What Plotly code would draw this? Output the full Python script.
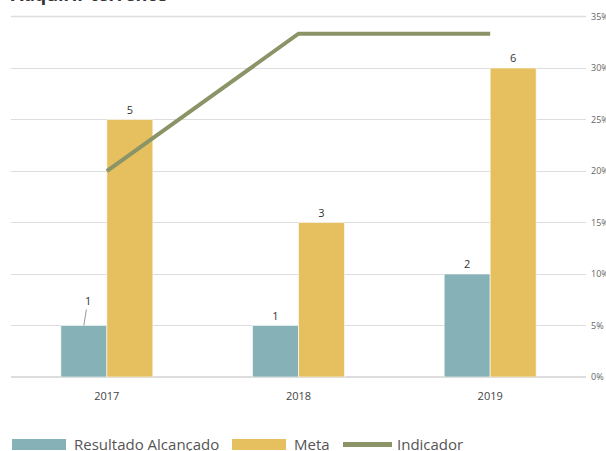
import plotly.graph_objects as go

years = ["2017", "2018", "2019"]
resultado_pct = [5, 5, 10]
resultado_n = [1, 1, 2]
meta_pct = [25, 15, 30]
meta_n = [5, 3, 6]
indicador_pct = [20, 33.33, 33.33]
y_ticks = [0, 5, 10, 15, 20, 25, 30, 35]
series_names = ["Resultado Alcançado", "Meta", "Indicador"]
title_text = "Adquirir terrenos"

FONT = "Open Sans"
teal = "#86b1b7"
gold = "#e6bf5f"
olive = "#8a9467"

W, H = 606, 451
ML, MR, MT, MB = 11, 20, 15, 74
PW = W - ML - MR
PH = H - MT - MB


def px(xp):
    return (xp - ML) / PW


def py(yp):
    return (H - MB - yp) / PH


res_text = [""] + [str(v) for v in resultado_n[1:]]

fig = go.Figure()
fig.add_trace(go.Bar(
    x=years, y=resultado_pct, name=series_names[0],
    marker=dict(color=teal, line=dict(color="rgba(255,255,255,0.6)", width=1)),
    text=res_text, textposition="outside", cliponaxis=False,
    textfont=dict(family=FONT, size=11, color="#333"),
))
fig.add_trace(go.Bar(
    x=years, y=meta_pct, name=series_names[1],
    marker=dict(color=gold, line=dict(color="rgba(255,255,255,0.6)", width=1)),
    text=[str(v) for v in meta_n], textposition="outside", cliponaxis=False,
    textfont=dict(family=FONT, size=11, color="#333"),
))
fig.add_trace(go.Scatter(
    x=years, y=indicador_pct, name=series_names[2], mode="lines",
    line=dict(color=olive, width=4), cliponaxis=False,
))

# displaced label with leader line for first result bar (x given as category index)
fig.add_annotation(
    x=years.index(years[0]), y=resultado_pct[0], xref="x", yref="y",
    text=str(resultado_n[0]), showarrow=True, arrowhead=0, arrowwidth=1,
    arrowcolor="#999", ax=4, ay=-25, xshift=-23,
    font=dict(family=FONT, size=11, color="#333"),
)

# title (mostly cut off at top edge, as in reference)
fig.add_annotation(
    x=0, y=1, xref="paper", yref="paper", xanchor="left", yanchor="bottom",
    text="<b>" + title_text + "</b>", showarrow=False, yshift=7, xshift=-2,
    font=dict(family=FONT, size=18, color="#333"),
)

# custom legend with wide swatches, plus top gridline
shapes = [
    dict(type="line", xref="paper", yref="y", x0=0, x1=1,
         y0=y_ticks[-1], y1=y_ticks[-1], line=dict(color="#dddddd", width=1.5),
         layer="below"),
    dict(type="rect", xref="paper", yref="paper", x0=px(12), x1=px(66),
         y0=py(450), y1=py(439), fillcolor=teal, line=dict(width=0)),
    dict(type="rect", xref="paper", yref="paper", x0=px(232), x1=px(286),
         y0=py(450), y1=py(439), fillcolor=gold, line=dict(width=0)),
    dict(type="line", xref="paper", yref="paper", x0=px(343), x1=px(392),
         y0=py(444.5), y1=py(444.5), line=dict(color=olive, width=5)),
]
fig.update_layout(shapes=shapes)
legend_x = [72, 292, 395]
for name, lx in zip(series_names, legend_x):
    fig.add_annotation(
        x=px(lx), y=py(444), xref="paper", yref="paper", xanchor="left",
        yanchor="middle", text=name, showarrow=False,
        font=dict(family=FONT, size=15, color="#555"),
    )

fig.update_layout(
    width=W, height=H,
    margin=dict(l=ML, r=MR, t=MT, b=MB, autoexpand=False),
    paper_bgcolor="white", plot_bgcolor="white",
    barmode="group", bargap=0.52, bargroupgap=0,
    font=dict(family=FONT, size=11, color="#444"),
    showlegend=False,
    xaxis=dict(type="category", range=[-0.5, len(years) - 0.5], automargin=False,
               showgrid=False, showline=False, ticks="", ticklabelstandoff=11,
               tickfont=dict(family=FONT, size=11, color="#444")),
    yaxis=dict(side="right", range=[0, 35.15], tickvals=y_ticks, automargin=False,
               ticktext=[f"{v}%" for v in y_ticks], ticklabelstandoff=4,
               showgrid=True, gridcolor="#dddddd", gridwidth=1,
               zeroline=True, zerolinecolor="#dddddd", zerolinewidth=1.5,
               showline=False, ticks="",
               tickfont=dict(family=FONT, size=9, color="#666")),
)

fig.write_html("out.html", config={"displayModeBar": False},
               post_script="document.body.style.margin='0';document.body.style.overflow='hidden';")
